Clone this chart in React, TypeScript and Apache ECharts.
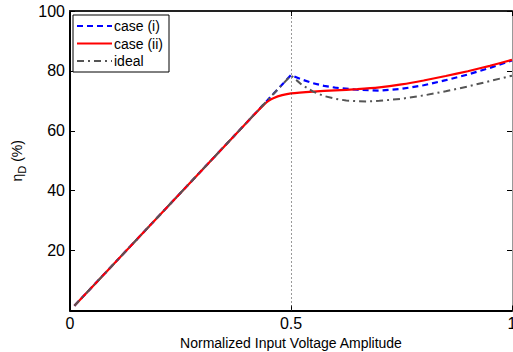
import React, { useEffect, useRef } from "react";
import * as echarts from "echarts";

const xTicks = [0, 0.5, 1];
const yTicks = [20, 40, 60, 80, 100];

const idealX = [0.01, 0.1, 0.2, 0.3, 0.4, 0.45, 0.5, 0.525, 0.55, 0.575, 0.6, 0.625, 0.65, 0.675, 0.7, 0.75, 0.8, 0.85, 0.9, 0.95, 1.0];
const idealY = [1.6, 15.7, 31.4, 47.1, 62.8, 70.7, 78.5, 75.3, 73.1, 71.6, 70.7, 70.1, 69.9, 69.8, 70.0, 70.7, 71.8, 73.2, 74.8, 76.6, 78.4];

const case1X = [0.01, 0.1, 0.2, 0.3, 0.4, 0.45, 0.5, 0.525, 0.55, 0.575, 0.6, 0.65, 0.7, 0.75, 0.8, 0.85, 0.9, 0.95, 1.0];
const case1Y = [1.6, 15.7, 31.4, 47.1, 62.8, 70.7, 78.6, 77.1, 75.9, 75.0, 74.4, 73.7, 73.4, 74.0, 75.2, 76.9, 78.8, 81.0, 83.5];

const case2X = [0.01, 0.1, 0.2, 0.3, 0.4, 0.42, 0.44, 0.45, 0.46, 0.48, 0.5, 0.55, 0.6, 0.65, 0.7, 0.75, 0.8, 0.85, 0.9, 0.95, 1.0];
const case2Y = [1.6, 15.7, 31.4, 47.1, 62.8, 65.9, 68.9, 70.1, 70.9, 71.9, 72.5, 73.1, 73.5, 73.9, 74.5, 75.5, 76.8, 78.3, 79.9, 81.7, 83.7];

const markerX = [0.5];

const names = ["case (i)", "case (ii)", "ideal"];

const FONT = "'Liberation Sans', Arial, Helvetica, sans-serif";

function pairs(xs: number[], ys: number[]) {
  return xs.map((x, i) => [x, ys[i]]);
}

export default function App() {
  const ref = useRef<HTMLDivElement>(null);
  useEffect(() => {
    if (!ref.current) return;
    const chart = echarts.init(ref.current, null, { renderer: "svg" });
    chart.setOption({
      animation: false,
      backgroundColor: "#ffffff",
      textStyle: { fontFamily: FONT },
      grid: { left: 70, top: 11, right: 1, bottom: 41.5, containLabel: false, outerBoundsMode: "none" },
      legend: {
        orient: "vertical",
        left: 73,
        top: 15,
        data: names,
        itemWidth: 35,
        itemHeight: 14,
        itemGap: 3.5,
        padding: [4, 6, 4, 3],
        backgroundColor: "#ffffff",
        borderColor: "#000000",
        borderWidth: 1,
        itemStyle: { opacity: 0 },
        textStyle: { fontFamily: FONT, fontSize: 14, color: "#000", padding: [0, 0, 0, -3] },
      },
      xAxis: [
        {
          type: "value",
          min: xTicks[0],
          max: xTicks[xTicks.length - 1],
          interval: 0.5,
          position: "bottom",
          name: "Normalized Input Voltage Amplitude",
          nameLocation: "middle",
          nameGap: 22,
          nameTextStyle: { fontFamily: FONT, fontSize: 14, color: "#000" },
          axisLine: { show: true, onZero: false, lineStyle: { color: "#000", width: 2 } },
          axisTick: { show: true, inside: true, length: 5, lineStyle: { color: "#000" } },
          axisLabel: { fontFamily: FONT, fontSize: 16, color: "#000", margin: 5 },
          splitLine: { show: false },
        },
        {
          type: "value",
          min: xTicks[0],
          max: xTicks[xTicks.length - 1],
          interval: 0.5,
          position: "top",
          axisLine: { show: true, onZero: false, lineStyle: { color: "#222", width: 2 } },
          axisTick: { show: true, inside: true, length: 5, lineStyle: { color: "#000" } },
          axisLabel: { show: false },
          splitLine: { show: false },
        },
      ],
      yAxis: [
        {
          type: "value",
          min: 0,
          max: 100,
          interval: 20,
          position: "left",
          name: "{eta|η}{sub|D}{pct| (%)}",
          nameLocation: "middle",
          nameGap: 37,
          nameRotate: 90,
          nameTextStyle: {
            fontFamily: FONT,
            color: "#000",
            rich: {
              eta: { fontFamily: FONT, fontSize: 14, color: "#000", lineHeight: 20, verticalAlign: "middle" },
              sub: { fontFamily: FONT, fontSize: 11, color: "#000", lineHeight: 20, verticalAlign: "bottom" },
              pct: { fontFamily: FONT, fontSize: 14, color: "#000", lineHeight: 20, verticalAlign: "middle" },
            },
          },
          axisLine: { show: true, onZero: false, lineStyle: { color: "#000", width: 2 } },
          axisTick: { show: true, inside: true, length: 5, lineStyle: { color: "#000" } },
          axisLabel: {
            fontFamily: FONT,
            fontSize: 16,
            color: "#000",
            margin: 5,
            formatter: (v: number) => (yTicks.includes(v) ? String(v) : ""),
          },
          splitLine: { show: false },
        },
        {
          type: "value",
          min: 0,
          max: 100,
          interval: 20,
          position: "right",
          axisLine: { show: true, onZero: false, lineStyle: { color: "#999", width: 1 } },
          axisTick: { show: true, inside: true, length: 5, lineStyle: { color: "#000" } },
          axisLabel: { show: false },
          splitLine: { show: false },
        },
      ],
      series: [
        {
          name: names[0],
          type: "line",
          xAxisIndex: 0,
          yAxisIndex: 0,
          data: pairs(case1X, case1Y),
          symbol: "none",
          showSymbol: false,
          itemStyle: { color: "#0000ff" },
          lineStyle: { color: "#0000ff", width: 2.2, type: [6, 4] },
          z: 3,
          markLine: {
            silent: true,
            symbol: ["none", "none"],
            label: { show: false },
            lineStyle: { color: "#333", width: 1, type: [1, 3] },
            data: markerX.map((x) => ({ xAxis: x })),
          },
        },
        {
          name: names[1],
          type: "line",
          xAxisIndex: 0,
          yAxisIndex: 0,
          data: pairs(case2X, case2Y),
          symbol: "none",
          showSymbol: false,
          smooth: 0.2,
          itemStyle: { color: "#ff0000" },
          lineStyle: { color: "#ff0000", width: 2.2, type: "solid" },
          z: 4,
        },
        {
          name: names[2],
          type: "line",
          xAxisIndex: 0,
          yAxisIndex: 0,
          data: pairs(idealX, idealY),
          symbol: "none",
          showSymbol: false,
          itemStyle: { color: "#555555" },
          lineStyle: { color: "#555555", width: 2, type: [7, 4, 2, 4] },
          z: 5,
        },
      ],
    });
    return () => chart.dispose();
  }, []);
  return (
    <div
      ref={ref}
      style={{ position: "fixed", left: 0, top: 0, width: 513, height: 352, background: "#fff" }}
    />
  );
}
